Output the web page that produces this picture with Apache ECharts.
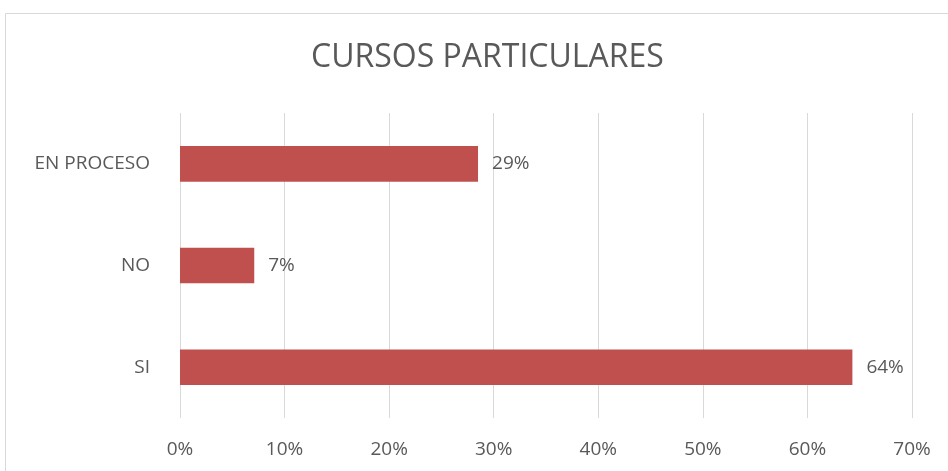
<!DOCTYPE html>
<html>
<head>
<meta charset="utf-8">
<script src="https://cdn.jsdelivr.net/npm/echarts@6/dist/echarts.min.js"></script>
<style>
  html, body { margin: 0; padding: 0; background: #fff; }
  #chart { width: 948px; height: 471px; }
</style>
</head>
<body>
<div id="chart"></div>
<script>
  // data
  const categories = ['SI', 'NO', 'EN PROCESO']
  const values = [64.3, 7.1, 28.5]
  const tickLabels = ['0%', '10%', '20%', '30%', '40%', '50%', '60%', '70%']

  const textColor = '#595959'
  const fontFamily = '"Open Sans", "Liberation Sans", sans-serif'

  const myChart = echarts.init(document.getElementById('chart'))
  const option = {
    backgroundColor: '#fff',
    graphic: [{
      type: 'rect',
      shape: { x: 5.5, y: 13.5, width: 1000, height: 600 },
      style: { fill: 'none', stroke: '#d9d9d9', lineWidth: 1 },
      silent: true
    }],
    title: {
      text: 'CURSOS PARTICULARES',
      left: 306,
      top: 37,
      textStyle: { color: textColor, fontSize: 32, fontWeight: 'normal', fontFamily: fontFamily }
    },
    grid: { left: 180, right: 36, top: 113, bottom: 53 },
    xAxis: {
      type: 'value',
      min: 0,
      max: 70,
      interval: 10,
      axisLine: { show: false },
      axisTick: { show: false },
      splitLine: { lineStyle: { color: '#d9d9d9', width: 1 } },
      axisLabel: {
        color: textColor,
        fontSize: 19,
        fontFamily: fontFamily,
        margin: 22,
        formatter: function (v) { return tickLabels[Math.round(v / 10)] }
      }
    },
    yAxis: {
      type: 'category',
      data: categories,
      axisLine: { show: false },
      axisTick: { show: false },
      axisLabel: { color: textColor, fontSize: 19, fontFamily: fontFamily, margin: 30 }
    },
    series: [{
      type: 'bar',
      data: values,
      barWidth: '35%',
      itemStyle: { color: '#c0504d' },
      label: {
        show: true,
        position: 'right',
        distance: 14,
        color: textColor,
        fontSize: 19,
        fontFamily: fontFamily,
        formatter: function (p) { return Math.round(p.value) + '%' }
      }
    }]
  }
  myChart.setOption(option)
</script>
</body>
</html>
